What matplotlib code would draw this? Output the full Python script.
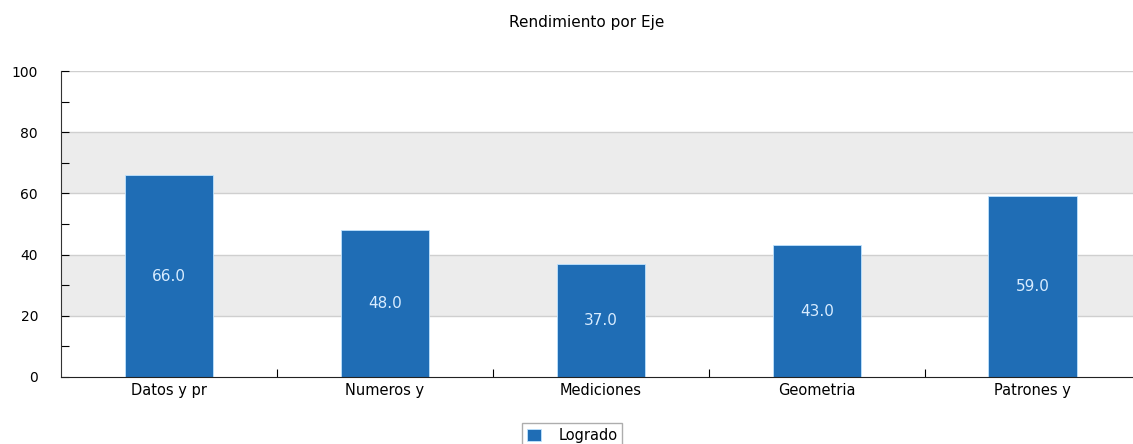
import numpy as np
import matplotlib.pyplot as plt
from matplotlib.ticker import MultipleLocator

# data
categories = ['Datos y pr', 'Numeros y', 'Mediciones', 'Geometria', 'Patrones y']
logrado = [66.0, 48.0, 37.0, 43.0, 59.0]

fig = plt.figure(figsize=(11.33, 4.44), dpi=100)
ax = fig.add_axes([0.0538, 0.151, 0.953, 0.689])

x = np.arange(len(categories))

# alternating background bands
for lo in (20, 60):
    ax.axhspan(lo, lo + 20, color='#ececec', zorder=0, lw=0)
for y in (20, 40, 60, 80, 100):
    ax.axhline(y, color='#cfcfcf', lw=1, zorder=0.5)

bars = ax.bar(x, logrado, width=0.41, color='#1f6db5', edgecolor='#bfe3ff',
              lw=0.6, label='Logrado', zorder=2)
for xi, v in zip(x, logrado):
    ax.text(xi, v / 2, f'{v:.1f}', ha='center', va='center', color='#d8ecff',
            fontsize=11, zorder=3)

ax.set_xlim(-0.5, len(categories) - 0.5)
ax.set_ylim(0, 100)
ax.yaxis.set_major_locator(MultipleLocator(20))
ax.yaxis.set_minor_locator(MultipleLocator(10))
ax.tick_params(axis='y', which='both', direction='in', length=6, width=0.8,
               labelsize=10, pad=16.5)

# category ticks at boundaries, labels centered
ax.set_xticks(np.arange(0.5, len(categories) - 1, 1.0))
ax.set_xticklabels([])
ax.set_xticks(x, minor=True)
ax.set_xticklabels(categories, minor=True, fontsize=10.5)
ax.tick_params(axis='x', which='major', direction='in', length=6, width=0.8)
ax.tick_params(axis='x', which='minor', length=0, pad=4)

for s in ('top', 'right'):
    ax.spines[s].set_visible(False)
ax.spines['left'].set_color('#333333')
ax.spines['bottom'].set_color('#222222')

fig.text(0.518, 0.95, 'Rendimiento por Eje', ha='center', va='center', fontsize=11)

fig.legend(handles=[bars], labels=['Logrado'], loc='center',
           bbox_to_anchor=(0.505, 0.02), frameon=True, fancybox=False,
           edgecolor='#999999', fontsize=10.5, handlelength=1.0, handleheight=0.9,
           handletextpad=1.2, borderpad=0.3, borderaxespad=0)

fig.savefig('out.png', dpi=100)
